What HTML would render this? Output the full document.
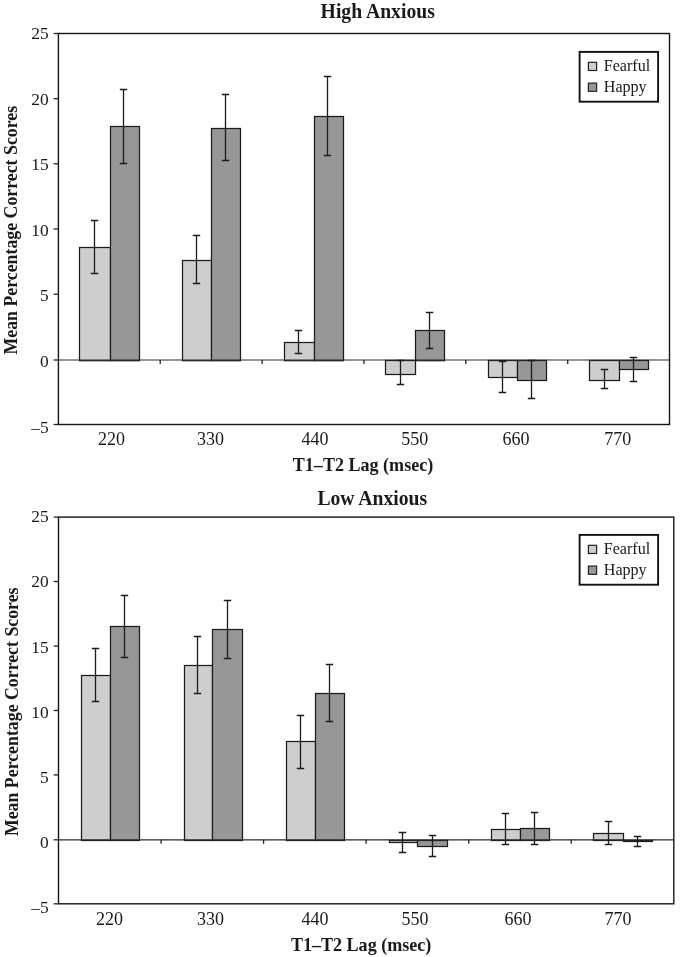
<!DOCTYPE html>
<html><head><meta charset="utf-8"><title>Figure</title>
<style>
html,body{margin:0;padding:0;background:#fff;}
svg{display:block;filter:grayscale(1);}
text{font-family:"Liberation Serif",serif;fill:#1a1a1a;}
.tk{font-size:18px;}
.ti{font-size:20.6px;font-weight:bold;}
.ax{font-size:18.95px;font-weight:bold;}
.lg{font-size:16px;}
</style></head><body>
<svg width="682" height="957" viewBox="0 0 682 957">
<rect width="682" height="957" fill="#fff"/>
<g>
<rect x="79.5" y="247.5" width="31.0" height="113.2" fill="#cecece" stroke="#1c1c1c" stroke-width="1.25"/>
<rect x="110.5" y="126.5" width="29.0" height="234.2" fill="#979797" stroke="#1c1c1c" stroke-width="1.25"/>
<rect x="182.5" y="260.5" width="29.0" height="100.2" fill="#cecece" stroke="#1c1c1c" stroke-width="1.25"/>
<rect x="211.5" y="128.5" width="29.0" height="232.2" fill="#979797" stroke="#1c1c1c" stroke-width="1.25"/>
<rect x="284.5" y="342.5" width="30.0" height="18.2" fill="#cecece" stroke="#1c1c1c" stroke-width="1.25"/>
<rect x="314.5" y="116.5" width="29.0" height="244.2" fill="#979797" stroke="#1c1c1c" stroke-width="1.25"/>
<rect x="385.5" y="360.5" width="30.0" height="14.0" fill="#cecece" stroke="#1c1c1c" stroke-width="1.25"/>
<rect x="415.5" y="330.5" width="29.0" height="30.2" fill="#979797" stroke="#1c1c1c" stroke-width="1.25"/>
<rect x="488.5" y="360.5" width="29.0" height="17.0" fill="#cecece" stroke="#1c1c1c" stroke-width="1.25"/>
<rect x="517.5" y="360.5" width="29.0" height="20.0" fill="#979797" stroke="#1c1c1c" stroke-width="1.25"/>
<rect x="589.5" y="360.5" width="30.0" height="20.0" fill="#cecece" stroke="#1c1c1c" stroke-width="1.25"/>
<rect x="619.5" y="360.5" width="29.0" height="9.0" fill="#979797" stroke="#1c1c1c" stroke-width="1.25"/>
<rect x="58.4" y="33.5" width="611.1" height="391.0" fill="none" stroke="#151515" stroke-width="1.4"/>
<path d="M58.4 360.0H669.5" stroke="#2a2a2a" stroke-width="1.15"/>
<path d="M53.6 33.5H58.4" stroke="#222" stroke-width="1.3"/>
<path d="M53.6 98.7H58.4" stroke="#222" stroke-width="1.3"/>
<path d="M53.6 163.8H58.4" stroke="#222" stroke-width="1.3"/>
<path d="M53.6 229.0H58.4" stroke="#222" stroke-width="1.3"/>
<path d="M53.6 294.2H58.4" stroke="#222" stroke-width="1.3"/>
<path d="M53.6 360.0H58.4" stroke="#222" stroke-width="1.3"/>
<path d="M53.6 424.5H58.4" stroke="#222" stroke-width="1.3"/>
<path d="M160.2 360.0V364.0" stroke="#222" stroke-width="1.3"/>
<path d="M262.1 360.0V364.0" stroke="#222" stroke-width="1.3"/>
<path d="M363.9 360.0V364.0" stroke="#222" stroke-width="1.3"/>
<path d="M465.8 360.0V364.0" stroke="#222" stroke-width="1.3"/>
<path d="M567.7 360.0V364.0" stroke="#222" stroke-width="1.3"/>
<path d="M94.5 220.5V273.5M90.8 220.5H98.2M90.8 273.5H98.2" stroke="#1c1c1c" stroke-width="1.3" fill="none"/>
<path d="M123.5 89.5V163.5M119.8 89.5H127.2M119.8 163.5H127.2" stroke="#1c1c1c" stroke-width="1.3" fill="none"/>
<path d="M196.5 235.5V283.5M192.8 235.5H200.2M192.8 283.5H200.2" stroke="#1c1c1c" stroke-width="1.3" fill="none"/>
<path d="M225.5 94.5V160.5M221.8 94.5H229.2M221.8 160.5H229.2" stroke="#1c1c1c" stroke-width="1.3" fill="none"/>
<path d="M298.5 330.5V353.5M294.8 330.5H302.2M294.8 353.5H302.2" stroke="#1c1c1c" stroke-width="1.3" fill="none"/>
<path d="M327.5 76.5V155.5M323.8 76.5H331.2M323.8 155.5H331.2" stroke="#1c1c1c" stroke-width="1.3" fill="none"/>
<path d="M400.5 360.5V384.5M396.8 360.5H404.2M396.8 384.5H404.2" stroke="#1c1c1c" stroke-width="1.3" fill="none"/>
<path d="M429.5 312.5V348.5M425.8 312.5H433.2M425.8 348.5H433.2" stroke="#1c1c1c" stroke-width="1.3" fill="none"/>
<path d="M502.5 361.5V392.5M498.8 361.5H506.2M498.8 392.5H506.2" stroke="#1c1c1c" stroke-width="1.3" fill="none"/>
<path d="M531.5 360.5V398.5M527.8 360.5H535.2M527.8 398.5H535.2" stroke="#1c1c1c" stroke-width="1.3" fill="none"/>
<path d="M604.5 369.5V388.5M600.8 369.5H608.2M600.8 388.5H608.2" stroke="#1c1c1c" stroke-width="1.3" fill="none"/>
<path d="M633.5 357.5V381.5M629.8 357.5H637.2M629.8 381.5H637.2" stroke="#1c1c1c" stroke-width="1.3" fill="none"/>
<text transform="translate(48.6 39.2)" text-anchor="end" class="tk" style="font-size:17.4px">25</text>
<text transform="translate(48.6 104.8)" text-anchor="end" class="tk" style="font-size:17.4px">20</text>
<text transform="translate(48.6 170.3)" text-anchor="end" class="tk" style="font-size:17.4px">15</text>
<text transform="translate(48.6 235.8)" text-anchor="end" class="tk" style="font-size:17.4px">10</text>
<text transform="translate(48.6 301.4)" text-anchor="end" class="tk" style="font-size:17.4px">5</text>
<text transform="translate(48.6 366.9)" text-anchor="end" class="tk" style="font-size:17.4px">0</text>
<text transform="translate(48.6 432.5)" text-anchor="end" class="tk" style="font-size:17.4px">–5</text>
<text transform="translate(111.5 444.5)" text-anchor="middle" class="tk">220</text>
<text transform="translate(210.5 444.5)" text-anchor="middle" class="tk">330</text>
<text transform="translate(315.0 444.5)" text-anchor="middle" class="tk">440</text>
<text transform="translate(414.7 444.5)" text-anchor="middle" class="tk">550</text>
<text transform="translate(516.0 444.5)" text-anchor="middle" class="tk">660</text>
<text transform="translate(617.8 444.5)" text-anchor="middle" class="tk">770</text>
<text transform="translate(377.7 18.4) scale(0.955 1)" text-anchor="middle" class="ti">High Anxious</text>
<text transform="translate(363.0 470.9) scale(0.954 1)" text-anchor="middle" class="ax">T1–T2 Lag (msec)</text>
<text transform="translate(16.6 230.2) rotate(-90) scale(0.94 1)" text-anchor="middle" class="ax">Mean Percentage Correct Scores</text>
<rect x="579.6" y="51.9" width="78.5" height="49.8" fill="#fff" stroke="#111" stroke-width="1.9"/>
<rect x="588.4" y="62.3" width="8.2" height="8.2" fill="#cecece" stroke="#222" stroke-width="1.2"/>
<rect x="588.4" y="83.1" width="8.2" height="8.2" fill="#979797" stroke="#222" stroke-width="1.2"/>
<text transform="translate(603.8 70.6) scale(1.005 1)" class="lg">Fearful</text>
<text transform="translate(603.8 92.1) scale(1.005 1)" class="lg">Happy</text>
</g>
<g>
<rect x="81.5" y="675.5" width="29.0" height="165.0" fill="#cecece" stroke="#1c1c1c" stroke-width="1.25"/>
<rect x="110.5" y="626.5" width="29.0" height="214.0" fill="#979797" stroke="#1c1c1c" stroke-width="1.25"/>
<rect x="184.5" y="665.5" width="28.0" height="175.0" fill="#cecece" stroke="#1c1c1c" stroke-width="1.25"/>
<rect x="212.5" y="629.5" width="30.0" height="211.0" fill="#979797" stroke="#1c1c1c" stroke-width="1.25"/>
<rect x="286.5" y="741.5" width="29.0" height="99.0" fill="#cecece" stroke="#1c1c1c" stroke-width="1.25"/>
<rect x="315.5" y="693.5" width="29.0" height="147.0" fill="#979797" stroke="#1c1c1c" stroke-width="1.25"/>
<rect x="389.5" y="840.5" width="28.0" height="2.0" fill="#cecece" stroke="#1c1c1c" stroke-width="1.25"/>
<rect x="417.5" y="840.5" width="30.0" height="6.0" fill="#979797" stroke="#1c1c1c" stroke-width="1.25"/>
<rect x="491.5" y="829.5" width="29.0" height="11.0" fill="#cecece" stroke="#1c1c1c" stroke-width="1.25"/>
<rect x="520.5" y="828.5" width="29.0" height="12.0" fill="#979797" stroke="#1c1c1c" stroke-width="1.25"/>
<rect x="593.5" y="833.5" width="30.0" height="7.0" fill="#cecece" stroke="#1c1c1c" stroke-width="1.25"/>
<rect x="623.5" y="840.5" width="29.0" height="1.0" fill="#979797" stroke="#1c1c1c" stroke-width="1.25"/>
<rect x="58.5" y="517.1" width="615.3" height="386.7" fill="none" stroke="#151515" stroke-width="1.4"/>
<path d="M58.5 839.8H673.8" stroke="#2a2a2a" stroke-width="1.15"/>
<path d="M53.7 517.1H58.5" stroke="#222" stroke-width="1.3"/>
<path d="M53.7 581.5H58.5" stroke="#222" stroke-width="1.3"/>
<path d="M53.7 646.0H58.5" stroke="#222" stroke-width="1.3"/>
<path d="M53.7 710.5H58.5" stroke="#222" stroke-width="1.3"/>
<path d="M53.7 774.9H58.5" stroke="#222" stroke-width="1.3"/>
<path d="M53.7 839.8H58.5" stroke="#222" stroke-width="1.3"/>
<path d="M53.7 903.8H58.5" stroke="#222" stroke-width="1.3"/>
<path d="M161.1 839.8V843.8" stroke="#222" stroke-width="1.3"/>
<path d="M263.6 839.8V843.8" stroke="#222" stroke-width="1.3"/>
<path d="M366.1 839.8V843.8" stroke="#222" stroke-width="1.3"/>
<path d="M468.7 839.8V843.8" stroke="#222" stroke-width="1.3"/>
<path d="M571.2 839.8V843.8" stroke="#222" stroke-width="1.3"/>
<path d="M95.5 648.5V701.5M91.8 648.5H99.2M91.8 701.5H99.2" stroke="#1c1c1c" stroke-width="1.3" fill="none"/>
<path d="M124.5 595.5V657.5M120.8 595.5H128.2M120.8 657.5H128.2" stroke="#1c1c1c" stroke-width="1.3" fill="none"/>
<path d="M197.5 636.5V693.5M193.8 636.5H201.2M193.8 693.5H201.2" stroke="#1c1c1c" stroke-width="1.3" fill="none"/>
<path d="M227.5 600.5V658.5M223.8 600.5H231.2M223.8 658.5H231.2" stroke="#1c1c1c" stroke-width="1.3" fill="none"/>
<path d="M300.5 715.5V768.5M296.8 715.5H304.2M296.8 768.5H304.2" stroke="#1c1c1c" stroke-width="1.3" fill="none"/>
<path d="M329.5 664.5V721.5M325.8 664.5H333.2M325.8 721.5H333.2" stroke="#1c1c1c" stroke-width="1.3" fill="none"/>
<path d="M402.5 832.5V852.5M398.8 832.5H406.2M398.8 852.5H406.2" stroke="#1c1c1c" stroke-width="1.3" fill="none"/>
<path d="M432.5 835.5V856.5M428.8 835.5H436.2M428.8 856.5H436.2" stroke="#1c1c1c" stroke-width="1.3" fill="none"/>
<path d="M505.5 813.5V844.5M501.8 813.5H509.2M501.8 844.5H509.2" stroke="#1c1c1c" stroke-width="1.3" fill="none"/>
<path d="M534.5 812.5V844.5M530.8 812.5H538.2M530.8 844.5H538.2" stroke="#1c1c1c" stroke-width="1.3" fill="none"/>
<path d="M608.5 821.5V844.5M604.8 821.5H612.2M604.8 844.5H612.2" stroke="#1c1c1c" stroke-width="1.3" fill="none"/>
<path d="M637.5 836.5V846.5M633.8 836.5H641.2M633.8 846.5H641.2" stroke="#1c1c1c" stroke-width="1.3" fill="none"/>
<text transform="translate(48.6 522.4)" text-anchor="end" class="tk" style="font-size:17.4px">25</text>
<text transform="translate(48.6 587.4)" text-anchor="end" class="tk" style="font-size:17.4px">20</text>
<text transform="translate(48.6 652.5)" text-anchor="end" class="tk" style="font-size:17.4px">15</text>
<text transform="translate(48.6 717.5)" text-anchor="end" class="tk" style="font-size:17.4px">10</text>
<text transform="translate(48.6 782.5)" text-anchor="end" class="tk" style="font-size:17.4px">5</text>
<text transform="translate(48.6 847.5)" text-anchor="end" class="tk" style="font-size:17.4px">0</text>
<text transform="translate(48.6 912.6)" text-anchor="end" class="tk" style="font-size:17.4px">–5</text>
<text transform="translate(109.6 925.0)" text-anchor="middle" class="tk">220</text>
<text transform="translate(210.5 925.0)" text-anchor="middle" class="tk">330</text>
<text transform="translate(315.0 925.0)" text-anchor="middle" class="tk">440</text>
<text transform="translate(415.0 925.0)" text-anchor="middle" class="tk">550</text>
<text transform="translate(518.0 925.0)" text-anchor="middle" class="tk">660</text>
<text transform="translate(618.1 925.0)" text-anchor="middle" class="tk">770</text>
<text transform="translate(372.3 505.1) scale(0.955 1)" text-anchor="middle" class="ti">Low Anxious</text>
<text transform="translate(361.1 950.6) scale(0.954 1)" text-anchor="middle" class="ax">T1–T2 Lag (msec)</text>
<text transform="translate(17.5 711.8) rotate(-90) scale(0.94 1)" text-anchor="middle" class="ax">Mean Percentage Correct Scores</text>
<rect x="579.6" y="534.9" width="78.5" height="49.8" fill="#fff" stroke="#111" stroke-width="1.9"/>
<rect x="588.4" y="545.3" width="8.2" height="8.2" fill="#cecece" stroke="#222" stroke-width="1.2"/>
<rect x="588.4" y="566.1" width="8.2" height="8.2" fill="#979797" stroke="#222" stroke-width="1.2"/>
<text transform="translate(603.8 553.6) scale(1.005 1)" class="lg">Fearful</text>
<text transform="translate(603.8 575.1) scale(1.005 1)" class="lg">Happy</text>
</g>
</svg>
</body></html>
